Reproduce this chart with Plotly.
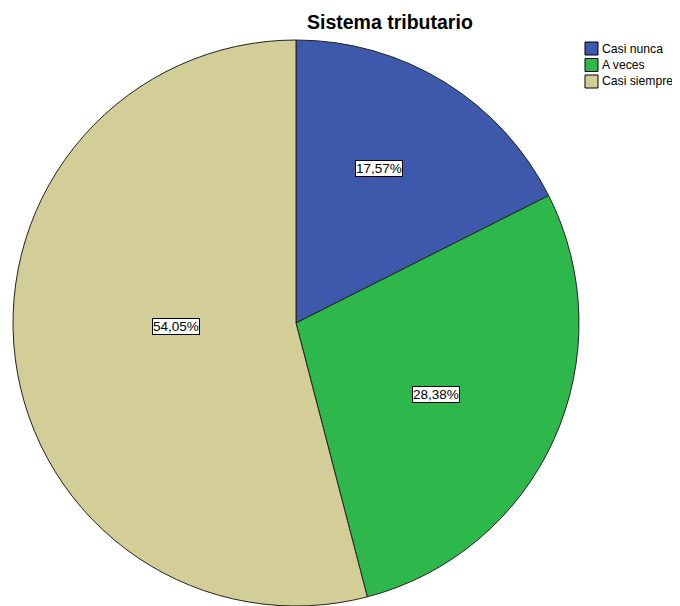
import math
import plotly.graph_objects as go

categories = ["Casi nunca", "A veces", "Casi siempre"]
counts = [13, 21, 40]
colors = ["#3E58AC", "#2EB84C", "#D3CE98"]

# label placement style (radius fraction, angle tweak in degrees)
label_radius = [0.62, 0.555, 0.424]
label_angle_shift = [-3.3, 2.6, 5.4]

# the page body has an 8px margin, so the figure is drawn 8px smaller
# and all screen positions are shifted by that offset
OFF = 8
W, H = 680 - OFF, 606 - OFF
FONT = "Liberation Sans, Arial, sans-serif"


def px_x(s):
    return (s - OFF) / W


def px_y(s):
    return 1 - (s - OFF) / H


dom_x = [px_x(12), px_x(580)]
dom_y = [0.0, px_y(40)]

total = sum(counts)
pcts = [c / total * 100 for c in counts]

fig = go.Figure(go.Pie(
    labels=categories,
    values=counts,
    sort=False,
    direction="clockwise",
    rotation=0,
    marker=dict(colors=colors, line=dict(color="#222222", width=1)),
    textinfo="none",
    hoverinfo="label+percent",
    showlegend=False,
    domain=dict(x=dom_x, y=dom_y),
))

# percentage label boxes at slice angles
cx = (dom_x[0] + dom_x[1]) / 2 * W
cy = (1 - (dom_y[0] + dom_y[1]) / 2) * H
R = min((dom_x[1] - dom_x[0]) * W, (dom_y[1] - dom_y[0]) * H) / 2
cum = 0
for p, f, sh in zip(pcts, label_radius, label_angle_shift):
    mid = math.radians((cum + p / 2) / 100 * 360 + sh)
    cum += p
    lx = cx + f * R * math.sin(mid)
    ly = cy - f * R * math.cos(mid)
    fig.add_annotation(
        x=lx / W, y=1 - ly / H, xref="paper", yref="paper",
        xanchor="center", yanchor="middle",
        text=f"{p:.2f}%".replace(".", ","),
        showarrow=False,
        font=dict(family=FONT, size=13.5, color="#000000"),
        bgcolor="#FFFFFF", bordercolor="#000000", borderwidth=1, borderpad=0,
    )

# legend (top right)
leg_x, leg_y, leg_step, sw = 585, 42, 16.5, 13
for i, (name, col) in enumerate(zip(categories, colors)):
    y0 = leg_y + i * leg_step
    fig.add_shape(type="rect", xref="paper", yref="paper",
                  x0=px_x(leg_x), x1=px_x(leg_x + sw),
                  y0=px_y(y0), y1=px_y(y0 + sw),
                  fillcolor=col, line=dict(color="#000000", width=1))
    fig.add_annotation(x=px_x(leg_x + sw + 2), y=px_y(y0 + sw / 2),
                       xref="paper", yref="paper", xanchor="left", yanchor="middle",
                       text=name, showarrow=False,
                       font=dict(family=FONT, size=12.2, color="#000000"))

# title
fig.add_annotation(x=px_x(390), y=px_y(22), xref="paper", yref="paper",
                   xanchor="center", yanchor="middle",
                   text="<b>Sistema tributario</b>", showarrow=False,
                   font=dict(family=FONT, size=19.5, color="#000000"))

fig.update_layout(
    width=W, height=H,
    paper_bgcolor="#FFFFFF", plot_bgcolor="#FFFFFF",
    margin=dict(l=0, r=0, t=0, b=0),
)

fig.write_html("out.html")
